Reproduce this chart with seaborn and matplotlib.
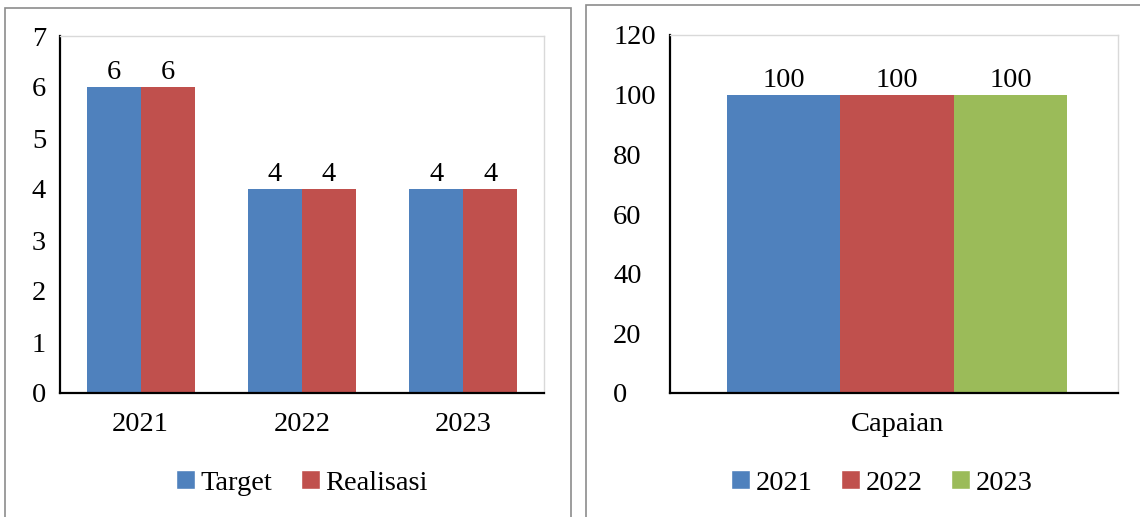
import matplotlib
matplotlib.use("Agg")
import matplotlib.pyplot as plt
from matplotlib.patches import Patch, Rectangle
import pandas as pd
import seaborn as sns

# Data
years = ["2021", "2022", "2023"]
series_names = ["Target", "Realisasi"]
target = [6, 4, 4]
realisasi = [6, 4, 4]
capaian_category = "Capaian"
capaian = [100, 100, 100]

BLUE = "#4F81BD"
RED = "#C0504D"
GREEN = "#9BBB59"

sns.set_theme(style="white")
plt.rcParams["font.family"] = ["Liberation Serif", "DejaVu Serif"]
plt.rcParams["text.color"] = "black"

W, H = 1140, 517
FS = 20.5
fig = plt.figure(figsize=(W / 100, H / 100), dpi=100)

# chart-area frames
fig.patches.append(Rectangle((5 / W, -5 / H), 566 / W, (H - 8 + 5) / H,
                             transform=fig.transFigure, fill=False,
                             edgecolor="#8C8C8C", linewidth=1.2, clip_on=False))
fig.patches.append(Rectangle((586 / W, -5 / H), 600 / W, (H - 5 + 5) / H,
                             transform=fig.transFigure, fill=False,
                             edgecolor="#8C8C8C", linewidth=1.2, clip_on=False))


def style_axes(ax):
    for side in ("top", "right"):
        ax.spines[side].set_color("#D9D9D9")
        ax.spines[side].set_linewidth(1.0)
    for side in ("left", "bottom"):
        ax.spines[side].set_color("black")
        ax.spines[side].set_linewidth(1.6)
    ax.set_xlabel("")
    ax.set_ylabel("")
    ax.tick_params(length=0, labelsize=FS, colors="black")
    ax.grid(False)


# Left: target vs realisation per year
ax1 = fig.add_axes([60 / W, (H - 393) / H, 484 / W, 357 / H])
df_left = pd.DataFrame({
    "Tahun": years * 2,
    "Seri": [series_names[0]] * 3 + [series_names[1]] * 3,
    "Nilai": target + realisasi,
})
sns.barplot(data=df_left, x="Tahun", y="Nilai", hue="Seri", hue_order=series_names,
            palette=[BLUE, RED], width=0.67, gap=0, saturation=1, linewidth=0,
            errorbar=None, legend=False, ax=ax1)
ax1.set_xlim(-0.5, 2.5)
ax1.set_ylim(0, 7)
ax1.set_yticks(range(0, 8))
style_axes(ax1)
ax1.tick_params(axis="y", pad=10)
ax1.tick_params(axis="x", pad=14)
for cont in ax1.containers:
    ax1.bar_label(cont, fmt="%g", padding=1.5, fontsize=FS)
fig.legend([Patch(facecolor=BLUE), Patch(facecolor=RED)], series_names,
           loc="center", bbox_to_anchor=(302 / W, 1 - 483 / H), ncol=2,
           frameon=False, fontsize=FS, handlelength=0.66, handleheight=0.66,
           handletextpad=0.2, columnspacing=1.0)

# Right: achievement per year
ax2 = fig.add_axes([670 / W, (H - 393) / H, 448 / W, 358 / H])
df_right = pd.DataFrame({
    "Kategori": [capaian_category] * 3,
    "Tahun": years,
    "Nilai": capaian,
})
sns.barplot(data=df_right, x="Kategori", y="Nilai", hue="Tahun", hue_order=years,
            palette=[BLUE, RED, GREEN], width=0.76, gap=0, saturation=1, linewidth=0,
            errorbar=None, legend=False, ax=ax2)
ax2.set_xlim(-0.507, 0.493)
ax2.set_ylim(0, 120)
ax2.set_yticks(range(0, 121, 20))
style_axes(ax2)
ax2.tick_params(axis="y", pad=41)
for lbl in ax2.get_yticklabels():
    lbl.set_horizontalalignment("left")
ax2.tick_params(axis="x", pad=14)
for cont in ax2.containers:
    ax2.bar_label(cont, fmt="%g", padding=1.5, fontsize=FS)
fig.legend([Patch(facecolor=c) for c in (BLUE, RED, GREEN)], years,
           loc="center", bbox_to_anchor=(882 / W, 1 - 483 / H), ncol=3,
           frameon=False, fontsize=FS, handlelength=0.66, handleheight=0.66,
           handletextpad=0.2, columnspacing=1.0)

fig.savefig("out.png", dpi=100)
